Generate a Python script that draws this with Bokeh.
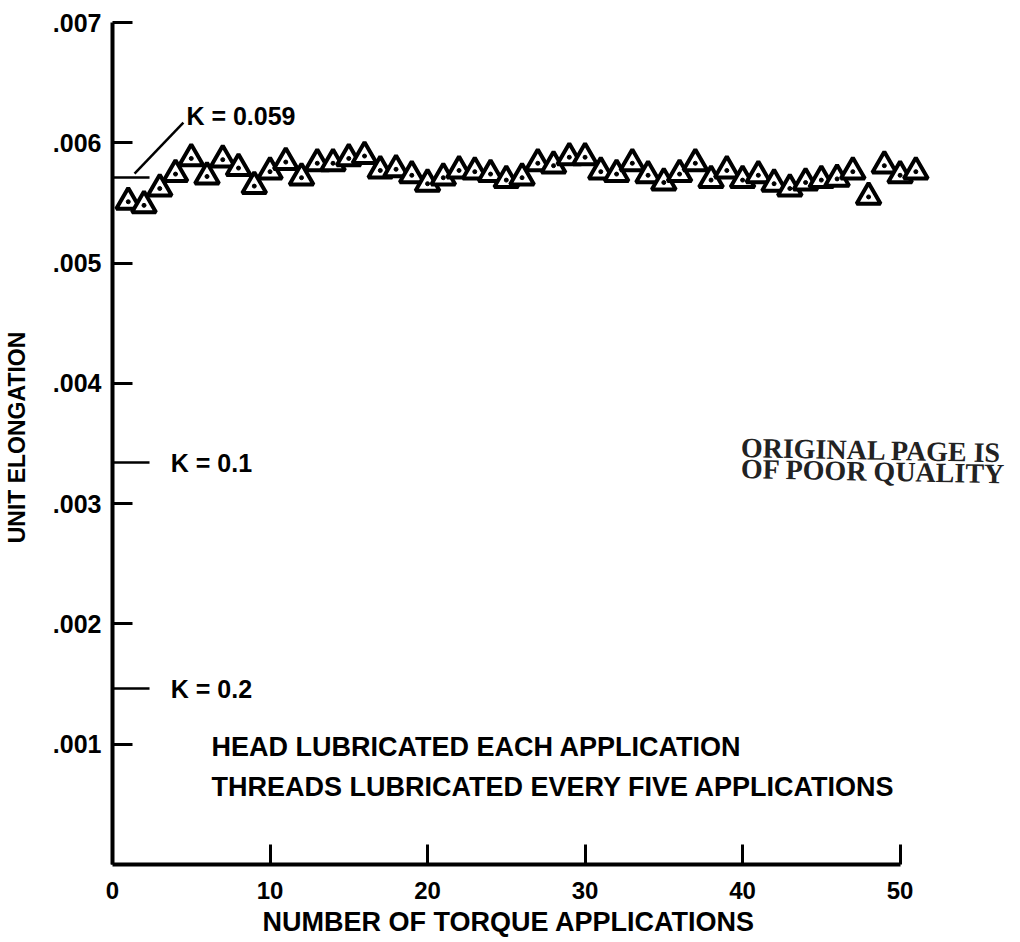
from bokeh.plotting import figure
from bokeh.models import Range1d, FixedTicker, CustomJSTickFormatter, Label, Title
from bokeh.embed import file_html
from bokeh.resources import INLINE

# ---- data ----
applications = list(range(1, 52))
unit_elongation = [
    0.00551, 0.00548, 0.00562, 0.00574, 0.00587, 0.00572, 0.00586, 0.00579, 0.00564, 0.00576,
    0.00584, 0.00571, 0.00583, 0.00583, 0.00587, 0.00589, 0.00577, 0.00578, 0.00573, 0.00566,
    0.00571, 0.00577, 0.00576, 0.00574, 0.00569, 0.00571, 0.00583, 0.00581, 0.00588, 0.00588,
    0.00576, 0.00574, 0.00583, 0.00573, 0.00567, 0.00574, 0.00583, 0.00569, 0.00577, 0.00569,
    0.00573, 0.00566, 0.00562, 0.00567, 0.00569, 0.00570, 0.00576, 0.00555, 0.00581, 0.00573,
    0.00576,
]
x_ticks = [0, 10, 20, 30, 40, 50]
y_ticks = [0.001, 0.002, 0.003, 0.004, 0.005, 0.006, 0.007]
k_labels = ["K = 0.059", "K = 0.1", "K = 0.2"]
k_levels = [0.005711, 0.003342, 0.001463]
notes = ["HEAD LUBRICATED EACH APPLICATION", "THREADS LUBRICATED EVERY FIVE APPLICATIONS"]
stamp = ["ORIGINAL PAGE IS", "OF POOR QUALITY"]
x_title = "NUMBER OF TORQUE APPLICATIONS"
y_title = "UNIT ELONGATION"

FONT = "Liberation Sans"

p = figure(width=1016, height=940,
           x_range=Range1d(0, 57.39), y_range=Range1d(0, 0.0071),
           output_backend="svg", toolbar_location=None,
           min_border_left=111, min_border_right=0,
           min_border_top=10, min_border_bottom=76)
p.background_fill_color = "white"
p.border_fill_color = "white"
p.outline_line_color = None
p.grid.visible = False

for ax in (p.xaxis[0], p.yaxis[0]):
    ax.axis_line_width = 4
    ax.axis_line_color = "black"
    ax.major_tick_in = 20
    ax.major_tick_out = 0
    ax.major_tick_line_width = 3
    ax.major_tick_line_color = "black"
    ax.minor_tick_line_color = None
    ax.major_label_text_font = FONT
    ax.major_label_text_font_style = "bold"
    ax.major_label_text_color = "black"
    ax.axis_label_text_font = FONT
    ax.axis_label_text_font_style = "bold"
    ax.axis_label_text_color = "black"

xa = p.xaxis[0]
xa.bounds = (0, 50)
xa.ticker = FixedTicker(ticks=x_ticks)
xa.major_label_text_font_size = "24px"
xa.major_label_standoff = 17

# x title centred under the 0..50 axis (frame is wider than the axis)
p.add_layout(Title(text=x_title, align="left", offset=150, standoff=6,
                   text_font=FONT, text_font_size="27px", text_font_style="bold",
                   text_color="black"), "below")

ya = p.yaxis[0]
ya.bounds = (0, 0.007)
ya.ticker = FixedTicker(ticks=y_ticks)
ya.formatter = CustomJSTickFormatter(code="return tick.toFixed(3).replace('0.', '.');")
ya.major_label_text_font_size = "25px"
ya.major_label_standoff = 11
ya.axis_label = y_title
ya.axis_label_text_font_size = "23px"
ya.axis_label_standoff = 20

# K reference marks
p.segment(x0=[0, 0, 0], y0=k_levels, x1=[2.35, 2.35, 2.35], y1=k_levels,
          line_color="black", line_width=2.5)
p.line([1.4, 4.5], [k_levels[0] + 0.000033, 0.006168], line_color="black", line_width=2.5)
k_pos = [(4.69, 0.006227), (3.7, k_levels[1]), (3.7, k_levels[2])]
for txt, (kx, ky) in zip(k_labels, k_pos):
    p.add_layout(Label(x=kx, y=ky, text=txt, text_font=FONT, text_font_style="bold",
                       text_font_size="25px", text_baseline="middle", text_color="black"))

# data points: open triangles with a centre dot
p.scatter(applications, unit_elongation, marker="triangle", size=24,
          fill_color="white", line_color="black", line_width=4)
p.scatter(applications, unit_elongation, marker="circle", size=4,
          fill_color="black", line_color="black")

# notes
for txt, ny in zip(notes, [0.000981, 0.000648]):
    p.add_layout(Label(x=6.28, y=ny, text=txt, text_font=FONT, text_font_style="bold",
                       text_font_size="27px", text_baseline="middle", text_color="black"))

# stamp
for txt, sy in zip(stamp, [0.003467, 0.003292]):
    p.add_layout(Label(x=39.89, y=sy, text=txt, text_font="Liberation Serif",
                       text_font_style="bold", text_font_size="28px",
                       text_baseline="middle", text_color="#222222", angle=-0.02))

open("out.html", "w").write(file_html(p, INLINE))
